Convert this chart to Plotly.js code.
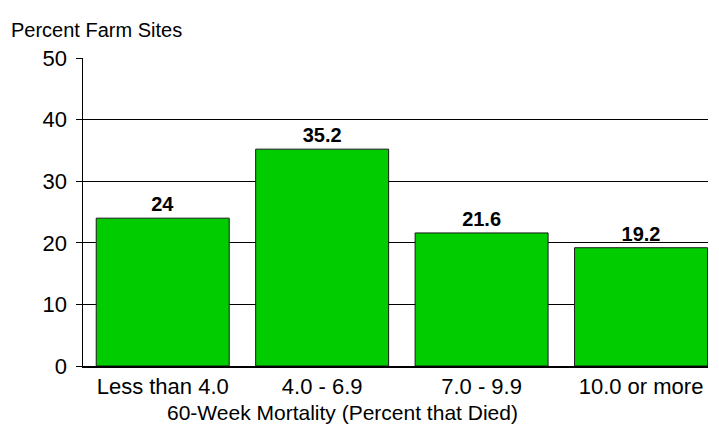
<!DOCTYPE html>
<html>
<head>
<meta charset="utf-8">
<script src="https://cdn.plot.ly/plotly-3.0.1.min.js"></script>
<style>body{margin:0;padding:0;background:#fff;}#chart{width:719px;height:442px;}</style>
</head>
<body>
<div id="chart"></div>
<script>
var categories = ["Less than 4.0", "4.0 - 6.9", "7.0 - 9.9", "10.0 or more"];
var values = [24, 35.2, 21.6, 19.2];
var valueLabels = ["24", "35.2", "21.6", "19.2"];
var yTicks = [0, 10, 20, 30, 40, 50];
var xTitle = "60-Week Mortality (Percent that Died)";
var yTitle = "Percent Farm Sites";

var trace = {
  type: "bar",
  x: categories,
  y: values,
  text: valueLabels,
  textposition: "outside",
  cliponaxis: false,
  textfont: {family: "Liberation Sans, Arial, sans-serif", size: 20, color: "#000"},
  texttemplate: "<b>%{text}</b>",
  marker: {color: "#00CC00", line: {color: "#1a1a1a", width: 1}},
  hoverinfo: "none"
};

var layout = {
  width: 719, height: 442,
  margin: {l: 83, r: 11, t: 58, b: 76},
  paper_bgcolor: "#fff", plot_bgcolor: "#fff",
  font: {family: "Liberation Sans, Arial, sans-serif", color: "#000", size: 21},
  bargap: 0.166,
  showlegend: false,
  annotations: [{
    text: yTitle, xref: "paper", yref: "paper",
    x: -0.119, y: 1.0, xanchor: "left", yanchor: "bottom", yshift: 15,
    showarrow: false, font: {size: 20, color: "#000"}
  }, {
    text: xTitle, xref: "paper", yref: "paper",
    x: (342 - 83) / 625, y: 0, xanchor: "center", yanchor: "middle", yshift: -46,
    showarrow: false, font: {size: 21, color: "#000"}
  }],
  xaxis: {
    range: [-0.5, 3.42],
    showline: true, linecolor: "#000", linewidth: 2,
    ticks: "", tickfont: {size: 22},
    fixedrange: true
  },
  yaxis: {
    range: [0, 50], tickvals: yTicks, ticktext: yTicks.map(String),
    showline: true, linecolor: "#000", linewidth: 1.5,
    ticks: "outside", ticklen: 6, tickcolor: "#000",
    showgrid: true, gridcolor: "#000", gridwidth: 1,
    zeroline: false, tickfont: {size: 22}, ticklabelstandoff: 4, fixedrange: true
  }
};

Plotly.newPlot("chart", [trace], layout, {displayModeBar: false, staticPlot: true});
</script>
</body>
</html>
